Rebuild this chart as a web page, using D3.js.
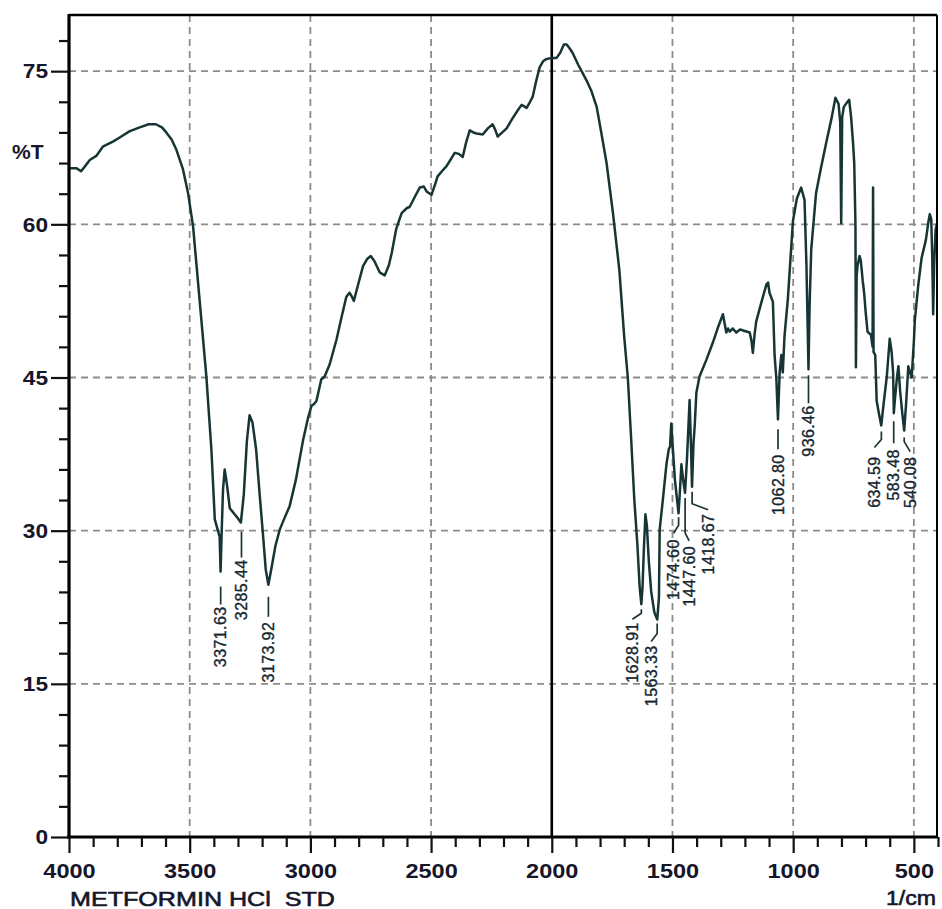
<!DOCTYPE html>
<html lang="en">
<head>
  <meta charset="UTF-8">
  <title>Metformin HCl STD - IR spectrum</title>
  <script src="https://d3js.org/d3.v7.min.js"></script>
  <style>
    body {
      margin: 0;
      background: #fff;
    }
    svg {
      display: block;
      font-family: "Liberation Sans", Arial, sans-serif;
    }
    .grid line {
      stroke: #8c8c8c;
      stroke-width: 1.8px;
      stroke-dasharray: 7 5;
    }
    .axis path {
      display: none;
    }
    .axis line {
      stroke: #111;
      stroke-width: 2.2px;
    }
    .axis text, .axis-title {
      font-size: 21px;
      font-weight: bold;
      fill: #16162a;
    }
    .axis-title.plain {
      font-weight: normal;
      stroke: #16162a;
      stroke-width: 0.6px;
    }
    .spectrum {
      fill: none;
      stroke: #173535;
      stroke-width: 2.5px;
      stroke-linejoin: round;
    }
    .peak-label {
      font-size: 16px;
      letter-spacing: 0.4px;
      fill: #14262e;
      stroke: #14262e;
      stroke-width: 0.35px;
    }
    .leader {
      fill: none;
      stroke: #1c3434;
      stroke-width: 1.7px;
    }
  </style>
</head>

<body>
  <svg id="chart" width="942" height="909"></svg>

  <script>
    // spectrum (wavenumber in 1/cm, transmittance in %T)
    const wavenumber = [
      4000, 3970, 3950, 3930, 3914, 3887, 3860, 3818, 3790, 3750, 3707, 3670, 3640, 3615, 3597, 3575,
      3555, 3528, 3507, 3486, 3459, 3431, 3410, 3396, 3383, 3376, 3372, 3368, 3362, 3355, 3345, 3334,
      3314, 3300, 3288, 3276, 3263, 3252, 3240, 3225, 3210, 3196, 3185, 3174, 3160, 3145, 3127, 3106,
      3086, 3060, 3030, 3010, 2996, 2985, 2975, 2955, 2941, 2920, 2892, 2870, 2851, 2838, 2830, 2820,
      2800, 2782, 2765, 2750, 2735, 2713, 2692, 2675, 2663, 2645, 2622, 2600, 2589, 2565, 2547, 2530,
      2518, 2498, 2485, 2473, 2455, 2436, 2420, 2402, 2385, 2369, 2355, 2340, 2325, 2311, 2286, 2265,
      2245, 2235, 2224, 2205, 2187, 2162, 2140, 2125, 2104, 2090, 2079, 2065, 2050, 2035, 2021, 2000,
      1980, 1965, 1950, 1938, 1925, 1914, 1890, 1872, 1850, 1835, 1814, 1795, 1773, 1746, 1720, 1712,
      1700, 1685, 1671, 1658, 1645, 1636, 1629, 1624, 1618, 1612, 1606, 1598, 1588, 1575, 1563, 1556,
      1553, 1540, 1525, 1515, 1510, 1505, 1498, 1490, 1475, 1470, 1463, 1456, 1448, 1440, 1429, 1423,
      1419, 1413, 1408, 1401, 1388, 1360, 1333, 1310, 1291, 1277, 1270, 1263, 1250, 1236, 1220, 1194,
      1180, 1172, 1167, 1160, 1153, 1130, 1111, 1104, 1098, 1084, 1077, 1070, 1063, 1056, 1049, 1043,
      1036, 1022, 1001, 985, 967, 953, 945, 936.5, 932, 925, 905, 885, 864, 840, 825, 812,
      805, 801, 797, 790, 775, 768, 760, 752, 747, 742, 740, 737, 733, 725, 720, 712,
      706, 700, 692, 684, 678, 671, 669, 667, 660, 654, 645, 635, 625, 612, 600, 592,
      586, 583, 578, 570, 564, 557, 548, 540, 532, 523, 516, 509, 500, 496, 482, 468,
      450, 440, 434, 428, 424, 420, 416, 410, 404
    ];
    const transmittance = [
      65.5, 65.5, 65.2, 65.8, 66.3, 66.7, 67.6, 68.1, 68.5, 69.1, 69.5, 69.8, 69.8, 69.5, 69.0, 68.3,
      67.3, 65.4, 63.1, 59.8, 52.6, 45.1, 37.9, 31.1, 30.0, 29.4, 26.0, 29.5, 34.0, 36.0, 34.4, 32.2,
      31.6, 31.2, 30.8, 33.5, 38.8, 41.3, 40.6, 38.0, 33.5, 29.5, 26.2, 24.7, 26.5, 28.5, 30.1, 31.3,
      32.4, 35.0, 38.9, 41.0, 42.2, 42.4, 42.7, 44.8, 45.1, 46.3, 48.7, 51.0, 52.9, 53.3, 53.0, 52.5,
      54.3, 55.9, 56.6, 56.9, 56.4, 55.3, 55.0, 56.0, 57.2, 59.5, 61.1, 61.6, 61.7, 62.8, 63.6, 63.7,
      63.2, 62.9, 63.8, 64.7, 65.2, 65.7, 66.3, 67.0, 66.9, 66.6, 68.0, 69.2, 69.0, 68.9, 68.8, 69.4,
      69.8, 69.3, 68.6, 69.0, 69.4, 70.4, 71.2, 71.7, 71.4, 72.0, 72.5, 74.0, 75.4, 76.0, 76.2, 76.3,
      76.3, 76.8, 77.6, 77.6, 77.2, 76.8, 75.6, 74.8, 73.8, 73.0, 71.5, 69.0, 66.0, 61.0, 55.5, 52.9,
      49.0, 45.0, 38.9, 33.0, 28.5, 24.5, 22.8, 24.5, 28.5, 31.6, 30.5, 27.0, 24.0, 22.0, 21.3, 23.5,
      30.1, 33.0, 36.5, 38.0, 38.2, 40.5, 37.9, 35.0, 31.7, 33.5, 36.5, 35.0, 33.7, 37.0, 42.8, 38.0,
      34.3, 38.5, 40.2, 43.5, 45.1, 46.7, 48.4, 50.0, 51.2, 49.4, 49.8, 49.5, 49.8, 49.4, 49.7, 49.5,
      49.4, 48.5, 47.4, 49.2, 50.5, 52.5, 54.1, 54.3, 53.3, 52.4, 47.2, 45.0, 40.9, 45.5, 47.2, 45.5,
      49.0, 52.7, 60.3, 62.5, 63.6, 62.4, 56.0, 45.8, 52.0, 57.6, 63.1, 65.5, 67.9, 70.5, 72.4, 71.8,
      70.0, 60.1, 70.5, 71.5, 72.0, 72.2, 70.5, 68.0, 66.0, 60.0, 46.0, 55.0, 56.0, 56.9, 56.5, 54.5,
      53.3, 51.5, 49.5, 49.3, 49.2, 48.0, 63.6, 47.5, 47.2, 42.7, 41.5, 40.3, 42.5, 45.1, 48.8, 47.5,
      45.5, 41.5, 43.0, 45.0, 46.1, 43.7, 41.5, 39.8, 42.5, 46.1, 45.5, 45.0, 48.5, 50.6, 54.0, 56.7,
      58.5, 60.2, 61.0, 60.5, 57.0, 51.2, 56.0, 59.5, 60.1
    ];

    // picked bands: label text and %T at the band tip
    const peakLabels = ["3371.63", "3285.44", "3173.92", "1628.91", "1563.33", "1474.60", "1447.60",
      "1418.67", "1062.80", "936.46", "634.59", "583.48", "540.08"];
    const peakTips = [26.0, 30.8, 24.7, 22.8, 21.3, 31.7, 33.7, 34.3, 40.9, 45.8, 40.3, 41.5, 39.8];

    const xMajorTicks = [4000, 3500, 3000, 2500, 2000, 1500, 1000, 500];
    const yMajorTicks = [0, 15, 30, 45, 60, 75];

    // leader line shapes under each band label: gap, drop, side shift, bend, text gap (px)
    const leaderLayout = [
      [15, 18, 0, 0, 2], [9, 26, 0, 0, 2], [12, 20, 0, 0, 5], [5, 4, -9, 6, 3],
      [4, 10, -6, 8, 4], [4, 8, -5, 8, 6], [5, 35, 4, 8, 5], [5, 12, 16, 6, 4],
      [10, 20, 0, 0, 5], [6, 28, 0, 0, 2], [6, 8, -7, 8, 9], [8, 22, 0, 0, 6],
      [7, 4, 6, 10, 5]
    ];

    const plot = {left: 69, right: 938, top: 15, bottom: 837};

    const svg = d3.select("#chart");

    const x = d3.scaleLinear().domain([4000, 400]).range([plot.left, plot.right]);
    const y = d3.scaleLinear().domain([0, 80.5]).range([plot.bottom, plot.top]);

    svg.append("defs").append("clipPath")
      .attr("id", "clip")
      .append("rect")
      .attr("x", plot.left)
      .attr("y", plot.top)
      .attr("width", 937 - plot.left)
      .attr("height", plot.bottom - plot.top);

    // dashed grid
    const grid = svg.append("g").attr("class", "grid");
    grid.selectAll(".gx")
      .data(xMajorTicks.filter(d => d !== 4000 && d !== 2000))
      .join("line")
      .attr("x1", d => x(d)).attr("x2", d => x(d))
      .attr("y1", plot.top).attr("y2", plot.bottom);
    grid.selectAll(".gy")
      .data(yMajorTicks.filter(d => d !== 0))
      .join("line")
      .attr("x1", plot.left).attr("x2", 937)
      .attr("y1", d => y(d)).attr("y2", d => y(d));

    // 2000 1/cm divider
    svg.append("line")
      .attr("x1", x(2000)).attr("x2", x(2000))
      .attr("y1", plot.top).attr("y2", plot.bottom)
      .attr("stroke", "#000")
      .attr("stroke-width", 2.6);

    // spectrum
    const line = d3.line()
      .x(d => x(d[0]))
      .y(d => y(d[1]));

    svg.append("path")
      .datum(d3.zip(wavenumber, transmittance))
      .attr("class", "spectrum")
      .attr("clip-path", "url(#clip)")
      .attr("d", line);

    // frame
    svg.append("line").attr("x1", plot.left).attr("x2", 937).attr("y1", plot.top).attr("y2", plot.top)
      .attr("stroke", "#000").attr("stroke-width", 2.4);
    svg.append("line").attr("x1", 937).attr("x2", 937).attr("y1", plot.top).attr("y2", plot.bottom)
      .attr("stroke", "#000").attr("stroke-width", 2);
    svg.append("line").attr("x1", plot.left).attr("x2", plot.left).attr("y1", plot.top - 1).attr("y2", plot.bottom + 2)
      .attr("stroke", "#000").attr("stroke-width", 3.2);
    svg.append("line").attr("x1", plot.left - 2).attr("x2", 938).attr("y1", plot.bottom).attr("y2", plot.bottom)
      .attr("stroke", "#000").attr("stroke-width", 3.2);

    // axes
    function stretch(sel, k) {
      sel.each(function() {
        const w = this.getComputedTextLength();
        d3.select(this).attr("textLength", w * k).attr("lengthAdjust", "spacingAndGlyphs");
      });
    }

    svg.append("g")
      .attr("class", "axis")
      .attr("transform", `translate(0,${plot.bottom})`)
      .call(d3.axisBottom(x)
        .tickValues(d3.range(400, 4001, 100).filter(d => d % 500 !== 0))
        .tickSize(10)
        .tickFormat(""));

    const xAxis = svg.append("g")
      .attr("class", "axis")
      .attr("transform", `translate(0,${plot.bottom})`)
      .call(d3.axisBottom(x)
        .tickValues(xMajorTicks)
        .tickSize(16)
        .tickPadding(10)
        .tickFormat(d3.format("d")));
    xAxis.selectAll("text").call(stretch, 1.12);

    svg.append("g")
      .attr("class", "axis")
      .attr("transform", `translate(${plot.left},0)`)
      .call(d3.axisLeft(y)
        .tickValues(d3.range(3, 80, 3).filter(d => d % 15 !== 0))
        .tickSize(10)
        .tickFormat(""));

    const yAxis = svg.append("g")
      .attr("class", "axis")
      .attr("transform", `translate(${plot.left},0)`)
      .call(d3.axisLeft(y)
        .tickValues(yMajorTicks)
        .tickSize(18)
        .tickPadding(3)
        .tickFormat(d3.format("d")));
    yAxis.selectAll("text").call(stretch, 1.08);

    svg.append("text")
      .attr("class", "axis-title")
      .attr("x", 12).attr("y", 159)
      .text("%T");

    svg.append("text")
      .attr("class", "axis-title plain")
      .attr("x", 70).attr("y", 906)
      .attr("textLength", 265)
      .attr("lengthAdjust", "spacingAndGlyphs")
      .attr("xml:space", "preserve")
      .text("METFORMIN HCl  STD");

    svg.append("text")
      .attr("class", "axis-title plain")
      .attr("x", 936).attr("y", 905)
      .attr("text-anchor", "end")
      .text("1/cm")
      .call(stretch, 1.1);

    // band labels with leader lines
    const peaks = peakLabels.map((label, i) => {
      const [gap, drop, dx, bend, textGap] = leaderLayout[i];
      const px = x(+label);
      const tipY = y(peakTips[i]);
      const y1 = tipY + gap;
      const y2 = y1 + drop;
      const y3 = y2 + bend;
      return {label, px, y1, y2, y3, dx, textY: y3 + textGap};
    });

    const labelGroup = svg.append("g");

    labelGroup.selectAll(".leader")
      .data(peaks)
      .join("path")
      .attr("class", "leader")
      .attr("d", d => {
        const p = d3.path();
        p.moveTo(d.px, d.y1);
        p.lineTo(d.px, d.y2);
        if (d.dx !== 0 || d.y3 !== d.y2) p.lineTo(d.px + d.dx, d.y3);
        return p.toString();
      });

    labelGroup.selectAll(".peak-label")
      .data(peaks)
      .join("text")
      .attr("class", "peak-label")
      .attr("text-anchor", "end")
      .attr("dy", "0.36em")
      .attr("transform", d => `translate(${d.px + d.dx},${d.textY}) rotate(-90)`)
      .text(d => d.label);
  </script>
</body>
</html>
